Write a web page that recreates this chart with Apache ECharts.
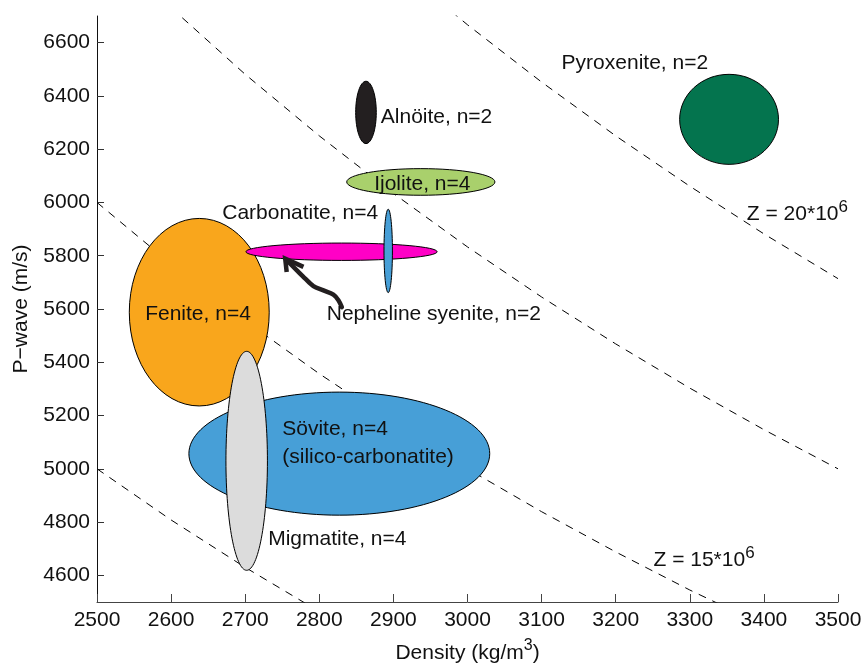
<!DOCTYPE html>
<html><head><meta charset="utf-8">
<script src="https://cdn.jsdelivr.net/npm/echarts@6/dist/echarts.min.js"></script>
<style>html,body{margin:0;padding:0;background:#fff}#c{width:864px;height:665px}</style>
</head><body><div id="c"></div>
<script>
// ---- data ----
const rockNames = ['Pyroxenite','Alnöite','Ijolite','Fenite','Sövite','Migmatite','Nepheline syenite','Carbonatite'];
const centerDensity  = [3353, 2863, 2937, 2638, 2827, 2702, 2830, 2893];
const centerVelocity = [6312, 6338, 6077, 5588, 5057, 5030, 5815, 5818];
const halfDensity    = [66.7, 13.9, 100, 94.4, 203, 28, 129, 5.7];
const halfVelocity   = [169, 117, 50, 352, 231, 411, 32.6, 156.5];

const labelText = ['Pyroxenite, n=2','Alnöite, n=2','Ijolite, n=4','Carbonatite, n=4','Fenite, n=4','Nepheline syenite, n=2','Sövite, n=4','(silico-carbonatite)','Migmatite, n=4'];
const labelDensity  = [3127, 2883, 2874, 2669, 2565, 2810, 2750, 2750, 2731];
const labelVelocity = [6521, 6321, 6068, 5958, 5580, 5580, 5147, 5044, 4734];

const impedanceLabelBase = ['Z = 20*10', 'Z = 15*10'];
const impedanceLabelExp = ['6', '6'];
const impedanceLabelDensity = [3377, 3251];
const impedanceLabelVelocity = [5955, 4657];

// iso-impedance curves
const curve12_5 = [[2500,5000],[2600,4808],[2700,4630],[2800,4464]];
const curve15 = [[2500,6000],[2600,5769],[2700,5556],[2800,5357],[2900,5172],[3000,5000],[3100,4839],[3200,4688],[3300,4545],[3400,4412]];
const curve17_5 = [[2600,6731],[2700,6481],[2800,6250],[2900,6034],[3000,5833],[3100,5645],[3200,5469],[3300,5303],[3400,5147],[3500,5000]];
const curve20 = [[2900,6897],[3000,6667],[3100,6452],[3200,6250],[3300,6061],[3400,5882],[3500,5714]];

// arrow (Nepheline syenite pointer)
const arrowDensity  = [2830.4, 2825.8, 2819, 2805.6, 2792, 2781, 2769.7, 2756];
const arrowVelocity = [5607, 5633, 5654, 5670, 5686, 5714, 5745, 5783];
const headDensity  = [2778.6, 2754, 2756];
const headVelocity = [5758, 5789, 5739];

const yTicks = [4600,4800,5000,5200,5400,5600,5800,6000,6200,6400,6600];

// ---- styles ----
const fillColors = ['#04744e','#231f20','#a9d06c','#f9a61c','#479fd7','#dcdcdc','#ff00c6','#479fd7'];
const FONT = "'Liberation Sans', Arial, Helvetica, sans-serif";
const FS = 21;

const chart = echarts.init(document.getElementById('c'), null, {renderer:'canvas'});

const ellipseData = rockNames.map((n,i)=>[centerDensity[i], centerVelocity[i], halfDensity[i], halfVelocity[i]]);
const labelData = labelText.map((t,i)=>[labelDensity[i], labelVelocity[i]]);
const zLabelData = impedanceLabelBase.map((t,i)=>[impedanceLabelDensity[i], impedanceLabelVelocity[i]]);

function curveSeries(d){
  return {type:'line', data:d, showSymbol:false, symbol:'none', z:1, silent:true,
    lineStyle:{color:'#000', width:1, type:[8,7]}, clip:true};
}
const plain = v => String(v);

const option = {
  animation:false,
  backgroundColor:'#fff',
  grid:{left:97, right:26, top:16, bottom:63, containLabel:false, outerBoundsMode:'none'},
  xAxis:{type:'value', min:2500, max:3500, interval:100,
    axisLine:{show:true, onZero:false, lineStyle:{color:'#444', width:1}},
    axisTick:{show:true, inside:true, length:8, lineStyle:{color:'#444'}},
    axisLabel:{fontSize:FS, fontFamily:FONT, color:'#111', margin:8, formatter:plain},
    splitLine:{show:false},
    name:'{a|Density (kg/m}{s|3}{a|)}', nameLocation:'middle', nameGap:36,
    nameTextStyle:{fontFamily:FONT, color:'#111', fontSize:FS,
      rich:{a:{fontSize:FS, fontFamily:FONT, color:'#111'}, s:{fontSize:16, fontFamily:FONT, color:'#111', padding:[0,0,14,0]}}}
  },
  yAxis:{type:'value', min:4500, max:6700,
    axisLine:{show:true, onZero:false, lineStyle:{color:'#111', width:1}},
    axisTick:{show:true, inside:true, length:7, customValues:yTicks, lineStyle:{color:'#333'}},
    axisLabel:{fontSize:FS, fontFamily:FONT, color:'#111', margin:7, customValues:yTicks, formatter:plain},
    splitLine:{show:false},
    name:'P−wave (m/s)', nameLocation:'middle', nameGap:65,
    nameTextStyle:{fontFamily:FONT, color:'#111', fontSize:FS}
  },
  series:[
    curveSeries(curve12_5), curveSeries(curve15), curveSeries(curve17_5), curveSeries(curve20),
    {type:'custom', z:2, silent:true, data:ellipseData, encode:{x:0,y:1},
      renderItem:function(params, api){
        const c = api.coord([api.value(0), api.value(1)]);
        const sx = api.size([api.value(2), 0])[0];
        const sy = api.size([0, api.value(3)])[1];
        return {type:'ellipse', shape:{cx:c[0], cy:c[1], rx:sx, ry:sy},
          style:{fill:fillColors[params.dataIndex], stroke:'#000', lineWidth:1}};
      }},
    {type:'custom', z:3, silent:true, data:[[arrowDensity[0], arrowVelocity[0]]], encode:{x:0,y:1},
      renderItem:function(params, api){
        const pts = arrowDensity.map((d,i)=>api.coord([d, arrowVelocity[i]]));
        const hp = headDensity.map((d,i)=>api.coord([d, headVelocity[i]]));
        return {type:'group', children:[
          {type:'polyline', shape:{points:pts, smooth:0.3}, style:{stroke:'#231f20', lineWidth:4.5, fill:null, lineCap:'round'}},
          {type:'polyline', shape:{points:hp}, style:{stroke:'#231f20', lineWidth:4.5, fill:null, lineJoin:'miter', lineCap:'butt'}}
        ]};
      }},
    {type:'custom', z:4, silent:true, data:labelData, encode:{x:0,y:1},
      renderItem:function(params, api){
        const c = api.coord([api.value(0), api.value(1)]);
        return {type:'text', x:c[0], y:c[1],
          style:{text:labelText[params.dataIndex], fill:'#111', fontSize:FS, fontFamily:FONT, align:'left', verticalAlign:'middle'}};
      }},
    {type:'custom', z:4, silent:true, data:zLabelData, encode:{x:0,y:1},
      renderItem:function(params, api){
        const c = api.coord([api.value(0), api.value(1)]);
        const i = params.dataIndex;
        return {type:'text', x:c[0], y:c[1],
          style:{text:'{a|'+impedanceLabelBase[i]+'}{s|'+impedanceLabelExp[i]+'}', fill:'#111', fontSize:FS, fontFamily:FONT, align:'left', verticalAlign:'middle',
            rich:{a:{fontSize:FS, fontFamily:FONT, fill:'#111'}, s:{fontSize:17, fontFamily:FONT, fill:'#111', padding:[0,0,14,0]}}}};
      }}
  ]
};
chart.setOption(option);
</script></body></html>
